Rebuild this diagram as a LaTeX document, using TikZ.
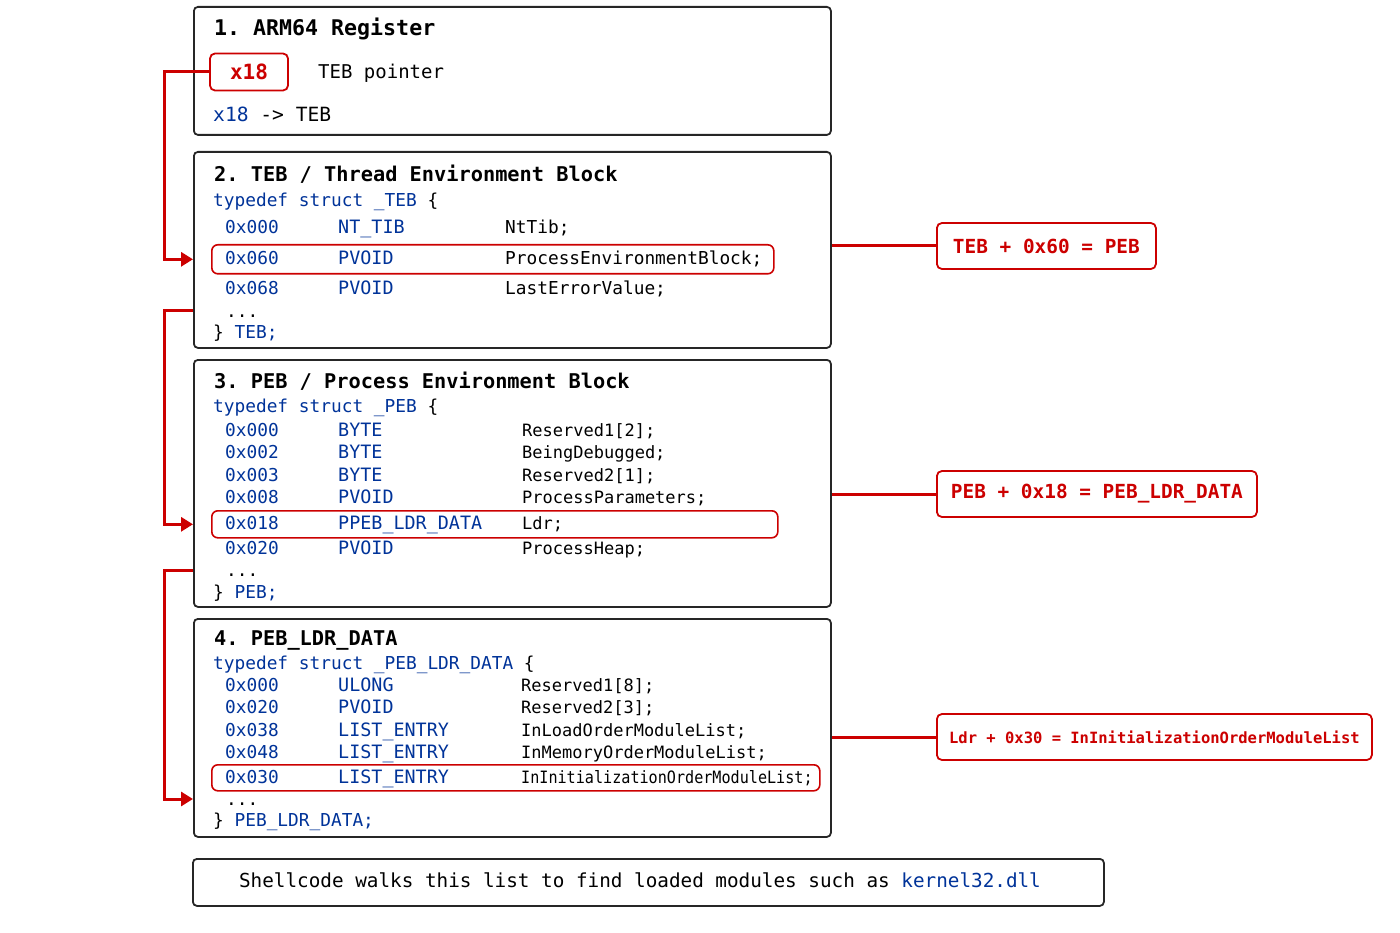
\documentclass[tikz,border=0pt]{standalone}
\usepackage{fontspec}
\setmainfont{DejaVu Sans Mono}
\usepackage{xcolor}
\usepackage{graphicx}
\usepackage{tikz}
\usetikzlibrary{arrows.meta, positioning, calc}
\definecolor{cred}{RGB}{204,0,0}
\definecolor{cblue}{RGB}{0,51,153}
\frenchspacing
\tikzset{
  blk/.style={rectangle, rounded corners=4pt, draw=black!85, line width=1.8pt,
              fill=white, anchor=north west, inner sep=0pt},
  hl/.style={rectangle, rounded corners=6pt, draw=cred, line width=1.6pt,
             anchor=north west, inner sep=0pt},
  note/.style={rectangle, rounded corners=5pt, draw=cred, line width=1.8pt, fill=white,
               text=cred, inner sep=0pt, minimum height=46pt, anchor=west,
               font=\bfseries\fontsize{19.4}{22}\selectfont},
  hd/.style={anchor=west, inner sep=0pt, text height=14.8pt, text depth=0pt,
             font=\bfseries\fontsize{20.3}{24}\selectfont},
  cd/.style={anchor=west, inner sep=0pt, text height=13pt, text depth=0pt,
             font=\fontsize{17.8}{21}\selectfont},
  ty/.style={cd, text=cblue, font=\fontsize{18.4}{21}\selectfont},
  nm/.style={cd, font=\fontsize{17}{20}\selectfont},
  fl/.style={-{Triangle[length=12pt, width=14pt]}, draw=cred, line width=3pt},
  ln/.style={draw=cred, line width=3pt}
}

\begin{document}
\begin{tikzpicture}[x=1pt, y=-1pt]
\useasboundingbox (0,0) rectangle (1400,933);
\node[blk, minimum width=637pt, minimum height=128pt] (b1) at (193,6) {};
\node[blk, minimum width=637pt, minimum height=196pt] (b2) at (193,151) {};
\node[blk, minimum width=637pt, minimum height=247pt] (b3) at (193,359) {};
\node[blk, minimum width=637pt, minimum height=218pt] (b4) at (193,618) {};
\node[blk, minimum width=911pt, minimum height=47pt] (b5) at (192,858) {};
\node[cd, anchor=center, font=\fontsize{19.3}{22}\selectfont] (ft) at (640,881)
  {Shellcode walks this list to find loaded modules such as \textcolor{cblue}{kernel32.dll}};

\node[hd, font=\bfseries\fontsize{21.6}{25}\selectfont] (h1) at (214,28) {1. ARM64 Register};
\node[rectangle, rounded corners=5pt, draw=cred, line width=1.8pt, minimum width=78pt,
      minimum height=37pt, text=cred, font=\bfseries\fontsize{21}{24}\selectfont] (r18) at (249,72) {x18};
\node[cd, font=\fontsize{19}{22}\selectfont] (tp) at (318,72) {TEB pointer};
\node[cd, text height=14pt, font=\fontsize{19.6}{23}\selectfont] (xr) at (213,115) {\textcolor{cblue}{x18} -> TEB};

\node[hl, minimum width=562pt, minimum height=29pt] (hl2) at (211,244) {};
\node[hd] (h2) at (214,174) {2. TEB / Thread Environment Block};
\node[cd] (td2) at (213,200) {\textcolor{cblue}{typedef struct \_TEB} \{};
\foreach \y/\o/\t/\n [count=\i] in {227/0x000/NT\_TIB/NtTib;, 258/0x060/PVOID/ProcessEnvironmentBlock;,
    288/0x068/PVOID/LastErrorValue;} {
  \node[cd, text=cblue] (o2\i) at (225,\y) {\o};
  \node[ty] (t2\i) at (338,\y) {\t};
  \node[cd] (n2\i) at (505,\y) {\n};
}
\node[cd] (d2) at (226,311) {...};
\node[cd] (e2) at (213,332) {\} \textcolor{cblue}{TEB;}};

\node[hl, minimum width=566pt, minimum height=27pt] (hl3) at (211,510) {};
\node[hd] (h3) at (214,381) {3. PEB / Process Environment Block};
\node[cd] (td3) at (213,406) {\textcolor{cblue}{typedef struct \_PEB} \{};
\foreach \y/\o/\t/\n [count=\i] in {430/0x000/BYTE/Reserved1[2];, 452/0x002/BYTE/BeingDebugged;,
    475/0x003/BYTE/Reserved2[1];, 497/0x008/PVOID/ProcessParameters;,
    523/0x018/PPEB\_LDR\_DATA/Ldr;, 548/0x020/PVOID/ProcessHeap;} {
  \node[cd, text=cblue] (o3\i) at (225,\y) {\o};
  \node[ty] (t3\i) at (338,\y) {\t};
  \node[nm] (n3\i) at (522,\y) {\n};
}
\node[cd] (d3) at (226,570) {...};
\node[cd] (e3) at (213,592) {\} \textcolor{cblue}{PEB;}};

\node[hl, minimum width=608pt, minimum height=26pt] (hl4) at (211,764) {};
\node[hd] (h4) at (214,638) {4. PEB\_LDR\_DATA};
\node[cd] (td4) at (213,663) {\textcolor{cblue}{typedef struct \_PEB\_LDR\_DATA} \{};
\foreach \y/\o/\t/\n [count=\i] in {685/0x000/ULONG/Reserved1[8];, 707/0x020/PVOID/Reserved2[3];,
    730/0x038/LIST\_ENTRY/InLoadOrderModuleList;, 752/0x048/LIST\_ENTRY/InMemoryOrderModuleList;} {
  \node[cd, text=cblue] (o4\i) at (225,\y) {\o};
  \node[ty] (t4\i) at (338,\y) {\t};
  \node[nm] (n4\i) at (521,\y) {\n};
}
\node[cd, text=cblue] (o45) at (225,777) {0x030};
\node[ty] (t45) at (338,777) {LIST\_ENTRY};
\node[nm] (n45) at (521,777) {\scalebox{0.89}[1]{InInitializationOrderModuleList;}};
\node[cd] (d4) at (226,799) {...};
\node[cd] (e4) at (213,820) {\} \textcolor{cblue}{PEB\_LDR\_DATA;}};

\node[note, minimum width=219pt] (c1) at (936,246) {TEB + 0x60 = PEB};
\node[note, minimum width=320pt] (c2) at (936,494) {PEB + 0x18 = PEB\_LDR\_DATA};
\node[note, minimum width=435pt, font=\bfseries\fontsize{15.5}{18}\selectfont] (c3) at (936,737)
  {Ldr + 0x30 = InInitializationOrderModuleList};

\coordinate (lx) at (164,0);
\draw[fl] (r18.west) -- (lx |- r18.west) |- (b2.west |- hl2.west);
\draw[fl] (b2.west |- d2) -- (lx |- d2) |- (b3.west |- hl3.west);
\draw[fl] (b3.west |- d3) -- (lx |- d3) |- (b4.west |- d4);
\draw[ln] (b2.east |- c1.west) -- (c1.west);
\draw[ln] (b3.east |- c2.west) -- (c2.west);
\draw[ln] (b4.east |- c3.west) -- (c3.west);
\end{tikzpicture}
\end{document}
